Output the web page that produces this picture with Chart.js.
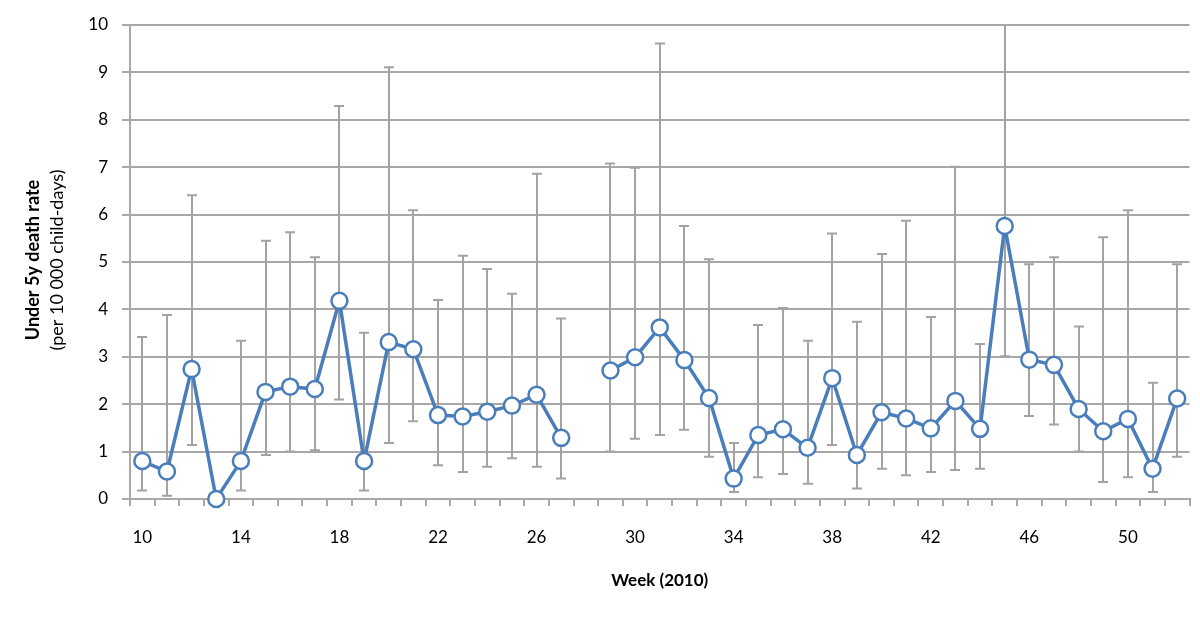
<!DOCTYPE html>
<html>
<head>
<meta charset="utf-8">
<script src="https://cdn.jsdelivr.net/npm/chart.js@4/dist/chart.umd.min.js"></script>
<style>
  html, body { margin: 0; background: #fff; }
  #wrap { width: 1200px; height: 624px; }
</style>
</head>
<body>
<div id="wrap"><canvas id="deathChart"></canvas></div>
<script>
const weeks = ['10','11','12','13','14','15','16','17','18','19',
               '20','21','22','23','24','25','26','27','28','29',
               '30','31','32','33','34','35','36','37','38','39',
               '40','41','42','43','44','45','46','47','48','49',
               '50','51','52'];

const rate = [0.80,0.58,2.74,0,0.80,2.26,2.37,2.32,4.18,0.80,
              3.31,3.16,1.77,1.74,1.84,1.97,2.20,1.29,null,2.71,
              2.99,3.62,2.93,2.13,0.43,1.35,1.47,1.08,2.55,0.93,
              1.83,1.70,1.49,2.07,1.48,5.76,2.94,2.83,1.90,1.43,
              1.69,0.64,2.12];

const ciLow = [0.18,0.07,1.14,null,0.18,0.93,1.00,1.03,2.10,0.18,
               1.18,1.64,0.71,0.57,0.68,0.86,0.68,0.43,null,1.00,
               1.27,1.35,1.46,0.89,0.15,0.46,0.53,0.32,1.14,0.22,
               0.64,0.50,0.57,0.61,0.64,3.01,1.75,1.57,1.00,0.36,
               0.46,0.15,0.89];

const ciHigh = [3.42,3.88,6.41,null,3.34,5.45,5.63,5.10,8.29,3.51,
                9.11,6.09,4.20,5.13,4.85,4.33,6.86,3.81,null,7.08,
                6.99,9.61,5.76,5.06,1.18,3.67,4.03,3.34,5.60,3.74,
                5.17,5.87,3.84,7.01,3.27,10.5,4.95,5.10,3.64,5.52,
                6.09,2.45,4.95];

const fontFam = 'Lato, "Noto Sans", sans-serif';
const gridGrey = '#a8a8a8';

// grey CI whiskers, drawn under the line
const errorBars = {
  id: 'errorBars',
  beforeDatasetsDraw(chart) {
    const ctx = chart.ctx, x = chart.scales.x, y = chart.scales.y, area = chart.chartArea;
    ctx.save();
    ctx.beginPath();
    ctx.rect(area.left, area.top, area.right - area.left, area.bottom - area.top + 2);
    ctx.clip();
    ctx.strokeStyle = '#a3a3a3';
    ctx.lineWidth = 2;
    for (let i = 0; i < weeks.length; i++) {
      if (ciLow[i] == null || ciHigh[i] == null) continue;
      const px = Math.round(x.getPixelForValue(i));
      const lo = y.getPixelForValue(ciLow[i]);
      const hi = y.getPixelForValue(ciHigh[i]);
      ctx.beginPath();
      ctx.moveTo(px, lo); ctx.lineTo(px, hi);
      ctx.moveTo(px - 5, lo); ctx.lineTo(px + 5, lo);
      ctx.moveTo(px - 5, hi); ctx.lineTo(px + 5, hi);
      ctx.stroke();
    }
    ctx.restore();
  }
};

// two-line y title, first line bold
const yTitle = {
  id: 'yTitle',
  afterDraw(chart) {
    const ctx = chart.ctx;
    const cy = (chart.chartArea.top + chart.chartArea.bottom) / 2;
    ctx.save();
    ctx.fillStyle = '#000';
    ctx.textAlign = 'center';
    ctx.textBaseline = 'middle';
    ctx.translate(33, cy - 2);
    ctx.rotate(-Math.PI / 2);
    ctx.font = 'bold 18px ' + fontFam;
    ctx.fillText('Under 5y death rate', 0, 0);
    ctx.font = '18px ' + fontFam;
    ctx.fillText('(per 10 000 child-days)', 0, 24);
    ctx.restore();
  }
};

new Chart('deathChart', {
  type: 'line',
  data: {
    labels: weeks,
    datasets: [{
      data: rate,
      borderColor: '#4a7ebb',
      borderWidth: 3.5,
      pointRadius: 8,
      pointHoverRadius: 8,
      pointBorderWidth: 2.5,
      pointBackgroundColor: '#fff',
      pointBorderColor: '#4a7ebb',
      tension: 0,
      spanGaps: false,
      clip: false
    }]
  },
  options: {
    responsive: true,
    maintainAspectRatio: false,
    animation: false,
    layout: { padding: { top: 25, right: 6, left: 0, bottom: 0 } },
    plugins: { legend: { display: false }, tooltip: { enabled: false } },
    scales: {
      x: {
        offset: true,
        afterFit: s => { s.height = 125; },
        grid: { offset: true, drawOnChartArea: false, tickLength: 7, color: gridGrey, lineWidth: 2 },
        border: { color: gridGrey, width: 2 },
        ticks: {
          autoSkip: false, maxRotation: 0, padding: 21, color: '#000',
          font: { family: fontFam, size: 17 },
          callback: (v, i) => (i % 4 === 0 ? weeks[i] : '')
        },
        title: {
          display: true, text: 'Week (2010)', color: '#000',
          font: { family: fontFam, size: 17, weight: 'bold' },
          padding: { top: 4, bottom: 33 }
        }
      },
      y: {
        min: 0, max: 10,
        afterFit: s => { s.width = 130; },
        grid: { color: gridGrey, lineWidth: 2, tickLength: 8 },
        border: { color: gridGrey, width: 2 },
        ticks: { stepSize: 1, padding: 14, color: '#000', font: { family: fontFam, size: 17 } }
      }
    }
  },
  plugins: [errorBars, yTitle]
});
</script>
</body>
</html>
